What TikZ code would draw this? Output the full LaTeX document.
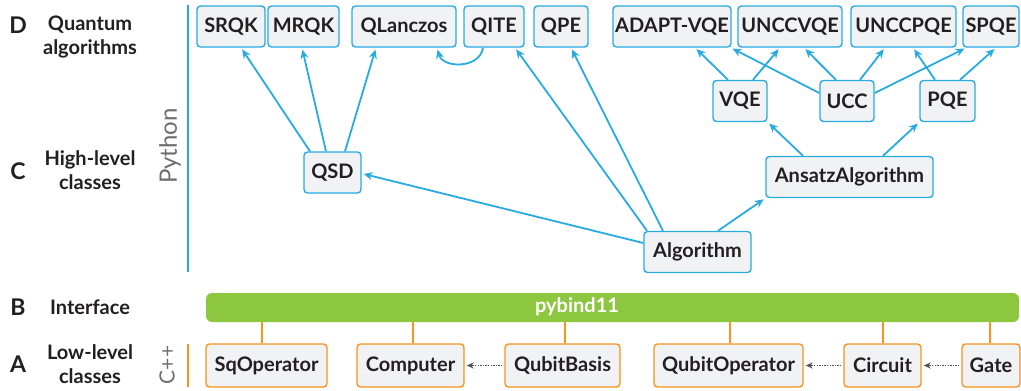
\documentclass[tikz,border=0pt]{standalone}
\usepackage{fontspec}
\setmainfont{Lato}
\usetikzlibrary{arrows.meta}
\definecolor{pyblue}{RGB}{41,171,226}
\definecolor{boxfill}{RGB}{241,242,244}
\definecolor{cppor}{RGB}{247,148,30}
\definecolor{bindgreen}{RGB}{141,198,63}
\definecolor{ink}{RGB}{35,31,32}
\definecolor{dotgray}{RGB}{80,80,80}
\definecolor{langgray}{RGB}{110,110,110}
\tikzset{
  cls/.style={draw=pyblue, fill=boxfill, rounded corners=3.5pt, line width=1.4pt,
    inner sep=0pt, text=ink, font=\bfseries\fontsize{20}{22}\selectfont},
  topcls/.style={cls, minimum height=41pt},
  lowcls/.style={cls, draw=cppor, minimum height=43pt},
  inherit/.style={draw=pyblue, line width=1.8pt, shorten >=2pt,
    -{Stealth[length=9pt,width=8pt]}},
  uses/.style={draw=dotgray, line width=1.6pt, dash pattern=on 1.3pt off 1.3pt,
    shorten >=2pt, shorten <=2pt, -{Stealth[length=7pt,width=6pt]}},
  bind/.style={draw=cppor, line width=2pt},
  tier/.style={text=ink, font=\bfseries\fontsize{23}{24}\selectfont},
  tiername/.style={text=ink, align=center, font=\bfseries\fontsize{20}{24}\selectfont},
  lang/.style={text=langgray, font=\fontsize{24}{26}\selectfont, rotate=90}
}
\begin{document}
\begin{tikzpicture}[x=1pt,y=-1pt]
\useasboundingbox (0,0) rectangle (1021,391);

% tier letters and captions
\node[tier] (tD) at (18,25) {D};
\node[tiername] (nD) at (90,37) {Quantum\\algorithms};
\node[tier] (tC) at (18,171) {C};
\node[tiername] (nC) at (90,170) {High-level\\classes};
\node[tier] (tB) at (18,307) {B};
\node[tiername] (nB) at (90,307) {Interface};
\node[tier] (tA) at (18,364) {A};
\node[tiername] (nA) at (90,364) {Low-level\\classes};

% language rails
\node[lang] (py) at (170,146) {Python};
\coordinate (pyTop) at (188,5);
\coordinate (pyBot) at (188,272);
\draw[pyblue, line width=2pt] (pyTop) -- (pyBot);
\node[lang, font=\fontsize{21}{22}\selectfont] (cpp) at (167,365) {C++};
\coordinate (cppTop) at (188,344);
\coordinate (cppBot) at (188,387);
\draw[cppor, line width=2pt] (cppTop) -- (cppBot);

% quantum algorithms
\node[topcls, minimum width=68pt]  (srqk)  at (231,26.5)   {SRQK};
\node[topcls, minimum width=71pt]  (mrqk)  at (303.5,26.5) {MRQK};
\node[topcls, minimum width=104pt] (qlz)   at (404,26.5)   {QLanczos};
\node[topcls, minimum width=60pt]  (qite)  at (494,26.5)   {QITE};
\node[topcls, minimum width=54pt]  (qpe)   at (561,26.5)   {QPE};
\node[topcls, minimum width=118pt] (adapt) at (672,26.5)   {ADAPT-VQE};
\node[topcls, minimum width=104pt] (uvqe)  at (790,26.5)   {UNCCVQE};
\node[topcls, minimum width=105pt] (upqe)  at (903.5,26.5) {UNCCPQE};
\node[topcls, minimum width=56pt]  (spqe)  at (991,26.5)   {SPQE};

% high-level classes
\node[topcls, minimum width=54pt]  (vqe)   at (740,101)    {VQE};
\node[topcls, minimum width=54pt]  (ucc)   at (847,101)    {UCC};
\node[topcls, minimum width=55pt]  (pqe)   at (947.5,101)  {PQE};
\node[topcls, minimum width=57pt]  (qsd)   at (332.5,172.5) {QSD};
\node[topcls, minimum width=167pt] (ansatz) at (849.5,177) {AnsatzAlgorithm};
\node[topcls, minimum width=107pt] (alg)   at (697.5,252)  {Algorithm};

% inheritance
\draw[inherit] ([xshift=-22.5pt]qsd.north) -- ([xshift=10pt]srqk.south);
\draw[inherit] ([xshift=-6.5pt]qsd.north) -- ([xshift=-1.5pt]mrqk.south);
\draw[inherit] ([xshift=12.5pt]qsd.north) -- ([xshift=-28pt]qlz.south);
\draw[inherit] ([xshift=-11pt]qite.south) .. controls +(-3,21) and +(6,21) .. ([xshift=33pt]qlz.south);
\draw[inherit] ([xshift=-50.5pt]alg.north) -- ([xshift=21pt]qite.south);
\draw[inherit] ([xshift=-34.5pt]alg.north) -- ([xshift=10pt]qpe.south);
\draw[inherit] ([yshift=9pt]alg.west) -- ([yshift=-1pt]qsd.east);
\draw[inherit] ([xshift=20.5pt]alg.north) -- (ansatz.south west);
\draw[inherit] ([xshift=-46.5pt]ansatz.north) -- (vqe.south east);
\draw[inherit] ([xshift=33.5pt]ansatz.north) -- (pqe.south west);
\draw[inherit] ([xshift=-12pt]vqe.north) -- ([xshift=23pt]adapt.south);
\draw[inherit] ([xshift=13pt]vqe.north) -- ([xshift=-10pt]uvqe.south);
\draw[inherit] ([yshift=8pt]ucc.west) -- ([xshift=-1pt]adapt.south east);
\draw[inherit] ([xshift=-11pt]ucc.north) -- ([xshift=14pt]uvqe.south);
\draw[inherit] ([xshift=13pt]ucc.north) -- ([xshift=-18.5pt]upqe.south);
\draw[inherit] ([yshift=8pt]ucc.east) -- ([xshift=4pt]spqe.south west);
\draw[inherit] ([xshift=-12.5pt]pqe.north) -- ([xshift=9.5pt]upqe.south);
\draw[inherit] ([xshift=12.5pt]pqe.north) -- ([xshift=5pt]spqe.south);

% binding layer
\node[fill=bindgreen, rounded corners=6pt, minimum width=813pt, minimum height=29pt,
  inner sep=0pt] (pyb) at (612.5,307.5) {};
\node[text=white, font=\bfseries\fontsize{20}{22}\selectfont] (pybtext) at (577,307) {pybind11};

% low-level classes
\node[lowcls, minimum width=121pt] (sqop)  at (266.5,365.5) {SqOperator};
\node[lowcls, minimum width=107pt] (comp)  at (410.5,365.5) {Computer};
\node[lowcls, minimum width=115pt] (qbas)  at (562.5,365.5) {QubitBasis};
\node[lowcls, minimum width=149pt] (qbop)  at (728.5,365.5) {QubitOperator};
\node[lowcls, minimum width=77pt]  (circ)  at (882.5,365.5) {Circuit};
\node[lowcls, minimum width=58pt]  (gate)  at (991,365.5)   {Gate};

\foreach \n/\dx in {sqop/-4.5, comp/2.5, qbas/2.5, qbop/1.5, circ/0, gate/-1}
  \draw[bind] ([xshift=\dx pt]\n.north) -- ([xshift=\dx pt]\n.north |- pyb.south);

\draw[uses] (qbas.west) -- (comp.east);
\draw[uses] (circ.west) -- (qbop.east);
\draw[uses] (gate.west) -- (circ.east);
\end{tikzpicture}
\end{document}
